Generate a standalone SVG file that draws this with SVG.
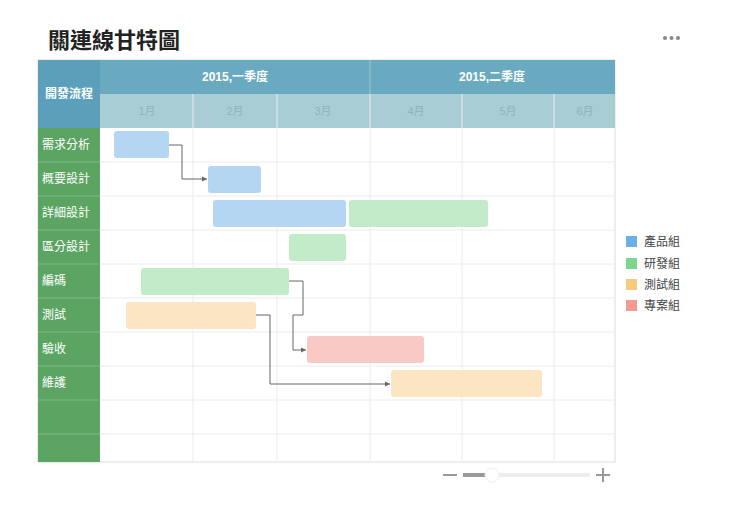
<svg xmlns="http://www.w3.org/2000/svg" width="740" height="508" viewBox="0 0 740 508">
<style>
text{font-family:"Liberation Sans","Noto Sans CJK TC",sans-serif}
.hd{fill:#fff;font-size:12px;font-weight:bold;text-anchor:middle}
.mo{fill:#8fb3c0;font-size:11px;text-anchor:middle}
.rl{fill:#fff;font-size:12px}
.g{stroke:#ececec;stroke-width:1}
.c{fill:none;stroke:#666;stroke-width:1}
.lg{fill:#444;font-size:12px}
</style>
<defs><marker id="a" markerWidth="6" markerHeight="6" refX="5" refY="3" orient="auto"><path d="M0,0.5L5,3L0,5.5z" fill="#666"/></marker></defs>
<rect width="740" height="508" fill="#fff"/>
<text x="48" y="48" font-size="22" font-weight="bold" fill="#222">關連線甘特圖</text>
<g fill="#888"><circle cx="665" cy="38" r="2"/><circle cx="671.5" cy="38" r="2"/><circle cx="678" cy="38" r="2"/></g>
<g id="grid">
<rect x="38" y="60" width="577" height="402" fill="#fff" stroke="#ddd"/>
<rect x="38" y="60" width="62" height="68" fill="#5b9fbb"/>
<rect x="100" y="60" width="515" height="34" fill="#6aaac0"/>
<rect x="100" y="94" width="515" height="34" fill="#a8cdd5"/>
<line x1="370" y1="60" x2="370" y2="94" stroke="#9cc6d3"/>
<rect x="38" y="128" width="62" height="334" fill="#5ba462"/>
<g stroke="#7dbb82"><line x1="38" y1="162" x2="100" y2="162"/><line x1="38" y1="196" x2="100" y2="196"/><line x1="38" y1="230" x2="100" y2="230"/><line x1="38" y1="264" x2="100" y2="264"/><line x1="38" y1="298" x2="100" y2="298"/><line x1="38" y1="332" x2="100" y2="332"/><line x1="38" y1="366" x2="100" y2="366"/><line x1="38" y1="400" x2="100" y2="400"/><line x1="38" y1="434" x2="100" y2="434"/></g>
<g class="g"><line x1="100" y1="162" x2="615" y2="162"/><line x1="100" y1="196" x2="615" y2="196"/><line x1="100" y1="230" x2="615" y2="230"/><line x1="100" y1="264" x2="615" y2="264"/><line x1="100" y1="298" x2="615" y2="298"/><line x1="100" y1="332" x2="615" y2="332"/><line x1="100" y1="366" x2="615" y2="366"/><line x1="100" y1="400" x2="615" y2="400"/><line x1="100" y1="434" x2="615" y2="434"/>
<line x1="193" y1="94" x2="193" y2="462"/><line x1="277" y1="94" x2="277" y2="462"/><line x1="370" y1="94" x2="370" y2="462"/><line x1="462" y1="94" x2="462" y2="462"/><line x1="554" y1="94" x2="554" y2="462"/></g>
<text class="hd" x="69" y="98">開發流程</text>
<text class="hd" x="235" y="81">2015,一季度</text>
<text class="hd" x="492" y="81">2015,二季度</text>
<text class="mo" x="147" y="115">1月</text><text class="mo" x="235" y="115">2月</text><text class="mo" x="323" y="115">3月</text><text class="mo" x="416" y="115">4月</text><text class="mo" x="508" y="115">5月</text><text class="mo" x="585" y="115">6月</text>
</g>
<g id="labels">
<text class="rl" x="42" y="149">需求分析</text><text class="rl" x="42" y="183">概要設計</text><text class="rl" x="42" y="217">詳細設計</text><text class="rl" x="42" y="251">區分設計</text><text class="rl" x="42" y="285">編碼</text><text class="rl" x="42" y="319">測試</text><text class="rl" x="42" y="353">驗收</text><text class="rl" x="42" y="387">維護</text>
</g>
<g id="bars">
<rect x="114" y="131" width="55" height="27" rx="3" fill="#b5d6f3"/>
<rect x="208" y="166" width="53" height="27" rx="3" fill="#b5d6f3"/>
<rect x="213" y="200" width="133" height="27" rx="3" fill="#b5d6f3"/>
<rect x="349" y="200" width="139" height="27" rx="3" fill="#c2ebca"/>
<rect x="289" y="234" width="57" height="27" rx="3" fill="#c2ebca"/>
<rect x="141" y="268" width="148" height="27" rx="3" fill="#c2ebca"/>
<rect x="126" y="302" width="130" height="27" rx="3" fill="#fbe5c2"/>
<rect x="307" y="336" width="117" height="27" rx="3" fill="#f9c9c6"/>
<rect x="391" y="370" width="151" height="27" rx="3" fill="#fbe5c2"/>
</g>
<g id="connectors">
<path class="c" d="M169,145H182V179H207" marker-end="url(#a)"/>
<path class="c" d="M289,281H303V315H293V350H306" marker-end="url(#a)"/>
<path class="c" d="M256,315H270V384H390" marker-end="url(#a)"/>
</g>
<g id="legend">
<rect x="626" y="236" width="11" height="11" fill="#6ab0e6"/><text class="lg" x="644" y="246">產品組</text>
<rect x="626" y="258" width="11" height="11" fill="#7ed68e"/><text class="lg" x="644" y="268">研發組</text>
<rect x="626" y="279" width="11" height="11" fill="#f6cc7c"/><text class="lg" x="644" y="289">測試組</text>
<rect x="626" y="300" width="11" height="11" fill="#f39a92"/><text class="lg" x="644" y="310">專案組</text>
</g>
<g id="slider">
<line x1="443" y1="475" x2="457" y2="475" stroke="#999" stroke-width="2"/>
<line x1="463" y1="475" x2="590" y2="475" stroke="#eee" stroke-width="4"/>
<line x1="463" y1="475" x2="485" y2="475" stroke="#999" stroke-width="4"/>
<circle cx="492" cy="475" r="7" fill="#fff" stroke="#eee"/>
<line x1="596" y1="475" x2="610" y2="475" stroke="#999" stroke-width="2"/><line x1="603" y1="468" x2="603" y2="482" stroke="#999" stroke-width="2"/>
</g>
</svg>
